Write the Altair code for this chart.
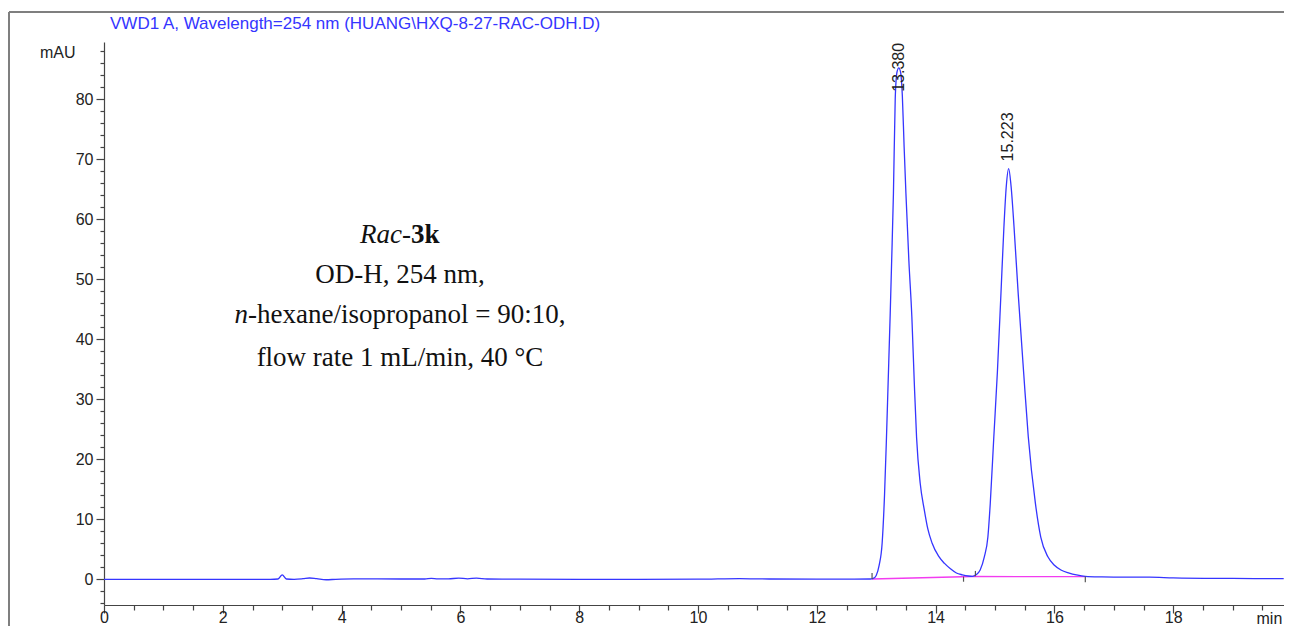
import altair as alt
import pandas as pd
import numpy as np

# ---------------- data ----------------
time_min = [0.00, 1.00, 2.00, 2.80, 2.93, 3.00, 3.07, 3.20, 3.35, 3.46, 3.58, 3.74, 3.90,
            4.20, 5.00, 5.40, 5.51, 5.62, 5.80, 5.97, 6.12, 6.27, 6.45, 7.00, 8.00, 9.00,
            10.00, 10.70, 11.20, 12.00, 12.60, 12.90, 12.95, 13.00, 13.05, 13.10, 13.14,
            13.17, 13.20, 13.235, 13.26, 13.29, 13.32, 13.35, 13.38, 13.41, 13.44, 13.47,
            13.50, 13.55, 13.60, 13.64, 13.68, 13.74, 13.81, 13.87, 13.94, 14.05, 14.15,
            14.25, 14.35, 14.45, 14.55, 14.62, 14.68, 14.75, 14.82, 14.88, 14.92, 14.98,
            15.04, 15.10, 15.15, 15.19, 15.23, 15.27, 15.32, 15.39, 15.485, 15.56, 15.68,
            15.77, 15.89, 16.00, 16.11, 16.25, 16.37, 16.52, 16.80, 17.20, 17.60, 18.00,
            19.00, 19.86]
signal_mau = [-0.05, -0.05, -0.05, -0.05, 0.00, 0.70, 0.00, -0.05, 0.05, 0.17, 0.05, -0.12, -0.05,
              0.02, 0.00, 0.00, 0.12, 0.02, 0.03, 0.15, 0.03, 0.15, 0.00, -0.02, -0.05, -0.05,
              -0.03, 0.08, 0.00, -0.02, -0.02, 0.00, 0.10, 0.60, 2.30, 6.00, 14.0,
              22.7, 32.5, 44.0, 53.0, 64.3, 80.0, 84.5, 85.2, 84.5, 80.5, 72.0,
              64.3, 53.0, 43.7, 33.0, 23.5, 16.0, 11.5, 8.3, 6.0, 3.8, 2.6,
              1.7, 1.0, 0.7, 0.5, 0.45, 0.7, 1.5, 3.7, 7.0, 12.6, 23.7,
              34.5, 47.6, 58.7, 65.5, 68.4, 65.5, 58.7, 47.6, 34.0, 23.7, 12.6,
              7.0, 3.7, 2.3, 1.5, 1.0, 0.7, 0.45, 0.35, 0.30, 0.30, 0.20,
              0.10, 0.05]

peak_rt = [13.380, 15.223]
peak_height = [85.2, 68.4]
peak_text = ["13.380", "15.223"]

baseline_t = [12.93, 14.62, 16.52]
baseline_v = [0.00, 0.42, 0.40]

marker_t = [12.93, 14.47, 14.67, 16.52]
marker_lo = [0.00, -0.45, 0.45, -0.55]
marker_hi = [1.00, 0.40, 1.35, 0.40]

title_text = "VWD1 A, Wavelength=254 nm (HUANG\\HXQ-8-27-RAC-ODH.D)"
x_title = "min"
y_title = "mAU"

# ---------------- layout ----------------
W, H = 1180, 563
X_MAX = 19.865
Y_MIN, Y_MAX = -4.33, 89.5
SANS = "Liberation Sans"
SERIF = "Liberation Serif"
BLUE = "#3535ff"

xs = alt.Scale(domain=[0, X_MAX], nice=False, zero=False)
ys = alt.Scale(domain=[Y_MIN, Y_MAX], nice=False, zero=False)

x_vals = [float(v) for v in np.arange(0, 19.9, 0.5)]
y_vals = [float(v) for v in np.arange(-4, 89, 2)]

x_axis = alt.Axis(
    values=x_vals,
    labelExpr="datum.value % 2 === 0 ? '' + datum.value : ''",
    tickSize={"condition": {"test": "datum.value % 2 === 0", "value": 8}, "value": 5},
    labelPadding=-4, labelOverlap=False, labelFlush=False, grid=False,
    labelFont=SANS, labelFontSize=16, labelColor="#222",
    domainColor="#444", tickColor="#444", domainWidth=1.2, tickWidth=1.2,
    title=x_title, titleX=1152, titleY=13, titleAlign="left", titleBaseline="middle",
    titleFont=SANS, titleFontSize=16, titleFontWeight="normal", titleColor="#222",
)
y_axis = alt.Axis(
    values=y_vals,
    labelExpr="datum.value % 10 === 0 ? '' + datum.value : ''",
    tickSize={"condition": {"test": "datum.value % 10 === 0", "value": 8}, "value": 4},
    labelPadding=3, labelOverlap=False, labelFlush=False, grid=False,
    labelFont=SANS, labelFontSize=16, labelColor="#222",
    domainColor="#444", tickColor="#444", domainWidth=1.2, tickWidth=1.2,
    title=y_title, titleAngle=0, titleX=-29, titleY=10, titleAlign="right",
    titleBaseline="middle", titleFont=SANS, titleFontSize=16,
    titleFontWeight="normal", titleColor="#222",
)

df = pd.DataFrame({"t": time_min, "v": signal_mau})
trace = alt.Chart(df).mark_line(color=BLUE, strokeWidth=1.3, interpolate="monotone").encode(
    x=alt.X("t:Q", scale=xs, axis=x_axis),
    y=alt.Y("v:Q", scale=ys, axis=y_axis),
)

base_df = pd.DataFrame({"t": baseline_t, "v": baseline_v})
baseline = alt.Chart(base_df).mark_line(color="#f23cf0", strokeWidth=1.3).encode(
    x=alt.X("t:Q", scale=xs, axis=x_axis),
    y=alt.Y("v:Q", scale=ys, axis=y_axis),
)

mk_df = pd.DataFrame({"t": marker_t, "v": marker_lo, "v2": marker_hi})
markers = alt.Chart(mk_df).mark_rule(color="#555", strokeWidth=1.2).encode(
    x=alt.X("t:Q", scale=xs, axis=x_axis),
    y=alt.Y("v:Q", scale=ys, axis=y_axis),
    y2="v2:Q",
)

label_anchor = [min(h + 1.2, Y_MAX - 8.3) for h in peak_height]
lab_df = pd.DataFrame({"t": peak_rt, "v": label_anchor, "txt": peak_text})
labels = alt.Chart(lab_df).mark_text(
    angle=270, align="left", baseline="middle", font=SANS, fontSize=16, color="#222"
).encode(
    x=alt.X("t:Q", scale=xs, axis=x_axis),
    y=alt.Y("v:Q", scale=ys, axis=y_axis),
    text="txt:N",
)

# frame around the whole figure
frame_df = pd.DataFrame({"k": [0]})
frame_top = alt.Chart(frame_df).mark_rule(color="#7f7f7f", strokeWidth=2).encode(
    x=alt.value(-95), x2=alt.value(W + 40), y=alt.value(-30)
)
frame_left = alt.Chart(frame_df).mark_rule(color="#7f7f7f", strokeWidth=2).encode(
    x=alt.value(-95), y=alt.value(-30), y2=alt.value(H + 40)
)

title_df = pd.DataFrame({"txt": [title_text]})
title = alt.Chart(title_df).mark_text(
    align="left", baseline="middle", font=SANS, fontSize=17, color=BLUE
).encode(x=alt.value(6), y=alt.value(-18), text="txt:N")

# annotation block (serif)
CX = 296
line_y = [193, 233, 273, 316]
split1 = 307
split3 = 153
ital_df = pd.DataFrame({"txt": ["Rac-", "n-"], "px": [split1, split3], "py": [line_y[0], line_y[2]]})
bold_df = pd.DataFrame({"txt": ["3k"], "px": [split1], "py": [line_y[0]]})
cen_df = pd.DataFrame({"txt": ["OD-H, 254 nm,", "flow rate 1 mL/min, 40 °C"], "px": [CX, CX],
                       "py": [line_y[1], line_y[3]]})
left_df = pd.DataFrame({"txt": ["hexane/isopropanol = 90:10,"], "px": [split3], "py": [line_y[2]]})

def serif_text(d, align, style="normal", weight="normal"):
    return alt.Chart(d).mark_text(
        align=align, baseline="middle", font=SERIF, fontSize=27,
        fontStyle=style, fontWeight=weight, color="#111"
    ).encode(
        x=alt.X("px:Q", scale=None),
        y=alt.Y("py:Q", scale=None),
        text="txt:N",
    )

ann = (serif_text(ital_df, "right", style="italic")
       + serif_text(bold_df, "left", weight="bold")
       + serif_text(cen_df, "center")
       + serif_text(left_df, "left"))

chart = alt.layer(
    frame_top, frame_left, baseline, trace, markers, labels, title, ann
).properties(
    width=W, height=H,
    background="white",
    autosize=alt.AutoSizeParams(type="none"),
    padding={"left": 96, "top": 34, "right": 0, "bottom": 21},
).configure_view(stroke=None)

chart.save("out.html", embed_options={"renderer": "svg", "actions": False})
